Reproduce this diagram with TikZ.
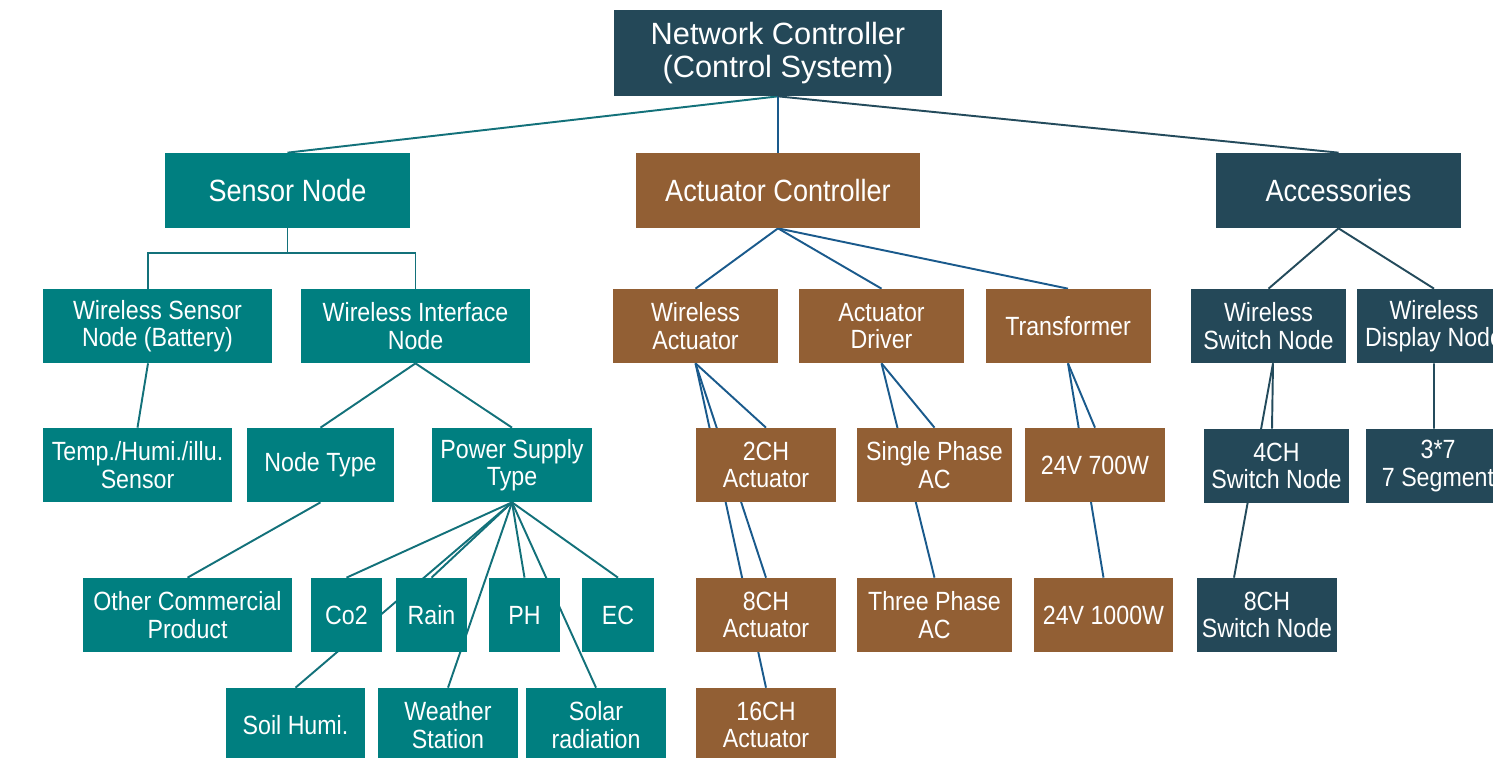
\documentclass[tikz,border=0pt]{standalone}
\usepackage{fontspec}
\setmainfont{Liberation Sans}[FakeStretch=0.88]
\newfontfamily\topfont{Liberation Sans}
\usetikzlibrary{backgrounds}
\definecolor{sensteal}{HTML}{007F80}
\definecolor{actbrown}{HTML}{925F34}
\definecolor{accslate}{HTML}{244858}
\definecolor{senline}{HTML}{13717A}
\definecolor{actline}{HTML}{1A5A8C}
\definecolor{accline}{HTML}{244B5C}
\tikzset{
  box/.style={inner sep=0pt, align=center, text=white, minimum height=1.48cm, font=\fontsize{15}{15.5}\selectfont},
  sens/.style={box, fill=sensteal},
  act/.style={box, fill=actbrown},
  acc/.style={box, fill=accslate},
  head/.style={minimum height=1.5cm, font=\fontsize{17.5}{18}\selectfont},
  link/.style={line width=1.1pt},
}
\begin{document}
\begin{tikzpicture}[x=0.02cm,y=-0.02cm]
    \useasboundingbox (0,0) rectangle (1493,757);
    \clip (0,0) rectangle (1493,757);
    \node[acc,minimum width=6.56cm,minimum height=1.72cm,font=\topfont\fontsize{17.5}{18.7}\selectfont] (NC) at (778,53) {Network Controller\\(Control System)};
    % Sensor ===================================================
    \node[sens,head,minimum width=4.9cm]  (Sensor)  at (287.5,190.5) {Sensor Node};
    \node[sens,minimum width=4.58cm]      (WSN)     at (157.5,326)   {Wireless Sensor\\Node (Battery)};
    \node[sens,minimum width=4.58cm]      (WIN)     at (415.5,326)   {Wireless Interface\\Node};
    \node[sens,minimum width=3.78cm]      (Temp)    at (137.5,465)   {Temp./Humi./illu.\\Sensor};
    \node[sens,minimum width=2.94cm]      (NType)   at (320.5,465)   {Node Type};
    \node[sens,minimum width=3.2cm]       (PST)     at (512,465)     {Power Supply\\Type};
    \node[sens,minimum width=4.18cm]      (OCP)     at (187.5,615)   {Other Commercial\\Product};
    \node[sens,minimum width=1.42cm]      (Co2)     at (346.5,615)   {Co2};
    \node[sens,minimum width=1.42cm]      (Rain)    at (431.5,615)   {Rain};
    \node[sens,minimum width=1.42cm]      (PH)      at (524.5,615)   {PH};
    \node[sens,minimum width=1.44cm]      (EC)      at (618,615)     {EC};
    \node[sens,minimum width=2.8cm]       (Soil)    at (295.5,725)   {Soil Humi.};
    \node[sens,minimum width=2.8cm]       (Weather) at (448,725)     {Weather\\Station};
    \node[sens,minimum width=2.8cm]       (Solar)   at (596,725)     {Solar\\radiation};
    % Actuator =================================================
    \node[act,head,minimum width=5.68cm]  (ActCtrl) at (778,190.5)   {Actuator Controller};
    \node[act,minimum width=3.3cm]        (WAct)    at (695.5,326)   {Wireless\\Actuator};
    \node[act,minimum width=3.3cm]        (ADrv)    at (881.5,326)   {Actuator\\Driver};
    \node[act,minimum width=3.3cm]        (Trans)   at (1068,326)    {Transformer};
    \node[act,minimum width=2.8cm]        (CH2)     at (766,465)     {2CH\\Actuator};
    \node[act,minimum width=2.8cm]        (CH8)     at (766,615)     {8CH\\Actuator};
    \node[act,minimum width=2.8cm]        (CH16)    at (766,725)     {16CH\\Actuator};
    \node[act,minimum width=3.1cm]        (SPAC)    at (934.5,465)   {Single Phase\\AC};
    \node[act,minimum width=3.1cm]        (TPAC)    at (934.5,615)   {Three Phase\\AC};
    \node[act,minimum width=2.8cm]        (W700)    at (1095,465)    {24V 700W};
    \node[act,minimum width=2.78cm]       (W1000)   at (1103.5,615)  {24V 1000W};
    % Accessories ==============================================
    \node[acc,head,minimum width=4.9cm]   (Acc)     at (1338.5,190.5) {Accessories};
    \node[acc,minimum width=3.1cm]        (WSwN)    at (1268.5,326)  {Wireless\\Switch Node};
    \node[acc,minimum width=3.1cm]        (WDN)     at (1434,326)    {Wireless\\Display Node};
    \node[acc,minimum width=2.9cm]        (Sw4)     at (1276.5,466)  {4CH\\Switch Node};
    \node[acc,minimum width=2.9cm]        (Seg)     at (1438,466)    {3*7\\7 Segment};
    \node[acc,minimum width=2.8cm]        (Sw8)     at (1267,615)    {8CH\\Switch Node};
    % Links (behind the boxes)
    \begin{pgfonlayer}{background}
    \draw[link,senline] (NC.south) -- (Sensor.north);
    \draw[link,actline] (NC.south) -- (ActCtrl.north);
    \draw[link,accline] (NC.south) -- (Acc.north);
    \draw[link,senline] (Sensor.south) -- ++(0,25) -| ([xshift=-0.19cm]WSN.north);
    \draw[link,senline] (Sensor.south) -- ++(0,25) -| (WIN.north);
    \draw[link,senline] ([xshift=-0.19cm]WSN.south) -- (Temp.north);
    \draw[link,senline] (WIN.south) -- (NType.north); \draw[link,senline] (WIN.south) -- (PST.north);
    \draw[link,senline] (NType.south) -- (OCP.north);
    \foreach \kid in {Co2,Rain,PH,EC,Soil,Weather,Solar}
        \draw[link,senline] (PST.south) -- (\kid.north);
    \foreach \kid in {WAct,ADrv,Trans}
        \draw[link,actline] (ActCtrl.south) -- (\kid.north);
    \foreach \kid in {CH2,CH8,CH16}
        \draw[link,actline] (WAct.south) -- (\kid.north);
    \draw[link,actline] (ADrv.south) -- (SPAC.north); \draw[link,actline] (ADrv.south) -- (TPAC.north);
    \draw[link,actline] (Trans.south) -- (W700.north); \draw[link,actline] (Trans.south) -- (W1000.north);
    \draw[link,accline] (Acc.south) -- (WSwN.north); \draw[link,accline] (Acc.south) -- (WDN.north);
    \draw[link,accline] ([xshift=0.09cm]WSwN.south) -- ([xshift=-0.09cm]Sw4.north);
    \draw[link,accline] ([xshift=0.09cm]WSwN.south) -- ([xshift=-0.66cm]Sw8.north);
    \draw[link,accline] (WDN.south) -- ([xshift=-0.08cm]Seg.north);
    \end{pgfonlayer}
\end{tikzpicture}
\end{document}
